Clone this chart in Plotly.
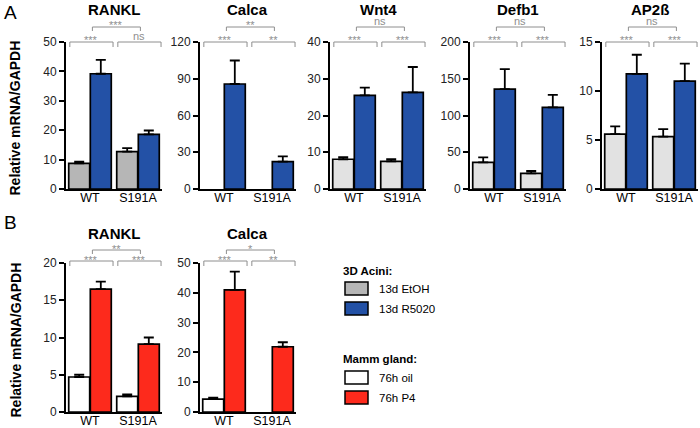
import plotly.graph_objects as go

W, H = 700, 428
FONT = "Liberation Sans, Arial, Helvetica, sans-serif"

groups = ["WT", "S191A"]

# panel A, 3D acini: 13d EtOH vs 13d R5020 (bar value, upper error)
rankl_a_etoh = [8.7, 12.7]
rankl_a_etoh_err = [0.6, 1.2]
rankl_a_r5020 = [39.2, 18.6]
rankl_a_r5020_err = [4.7, 1.3]

calca_a_etoh = [None, None]
calca_a_etoh_err = [0, 0]
calca_a_r5020 = [85.7, 22.4]
calca_a_r5020_err = [19.2, 4.3]

wnt4_etoh = [8.1, 7.5]
wnt4_etoh_err = [0.6, 0.6]
wnt4_r5020 = [25.5, 26.3]
wnt4_r5020_err = [2.1, 6.9]

defb1_etoh = [36.3, 21.3]
defb1_etoh_err = [6.8, 3.2]
defb1_r5020 = [136, 111]
defb1_r5020_err = [27, 17]

ap2b_etoh = [5.6, 5.35]
ap2b_etoh_err = [0.8, 0.75]
ap2b_r5020 = [11.75, 11.0]
ap2b_r5020_err = [1.95, 1.8]

# panel B, mammary gland: 76h oil vs 76h P4
rankl_b_oil = [4.7, 2.1]
rankl_b_oil_err = [0.3, 0.25]
rankl_b_p4 = [16.5, 9.1]
rankl_b_p4_err = [1.0, 0.9]

calca_b_oil = [4.3, None]
calca_b_oil_err = [0.5, 0]
calca_b_p4 = [41.0, 21.9]
calca_b_p4_err = [6.1, 1.5]

GRAY_DARK = "#b6b6b6"
GRAY_LIGHT = "#e2e2e2"
BLUE = "#2351a6"
RED = "#fd2a1c"
WHITE = "#ffffff"
BRACKET = "#8e8e8e"

panels = [
    dict(title="RANKL", row="A", x0=66, ymax=50, dtick=10,
         ctrl=rankl_a_etoh, ctrl_err=rankl_a_etoh_err, ctrl_color=GRAY_DARK,
         trt=rankl_a_r5020, trt_err=rankl_a_r5020_err, trt_color=BLUE,
         sig=("***", "ns", "***")),
    dict(title="Calca", row="A", x0=200, ymax=120, dtick=30,
         ctrl=calca_a_etoh, ctrl_err=calca_a_etoh_err, ctrl_color=GRAY_LIGHT,
         trt=calca_a_r5020, trt_err=calca_a_r5020_err, trt_color=BLUE,
         sig=("***", "**", "**")),
    dict(title="Wnt4", row="A", x0=330, ymax=40, dtick=10,
         ctrl=wnt4_etoh, ctrl_err=wnt4_etoh_err, ctrl_color=GRAY_LIGHT,
         trt=wnt4_r5020, trt_err=wnt4_r5020_err, trt_color=BLUE,
         sig=("***", "***", "ns")),
    dict(title="Defb1", row="A", x0=470, ymax=200, dtick=50,
         ctrl=defb1_etoh, ctrl_err=defb1_etoh_err, ctrl_color=GRAY_LIGHT,
         trt=defb1_r5020, trt_err=defb1_r5020_err, trt_color=BLUE,
         sig=("***", "***", "ns")),
    dict(title="AP2ß", row="A", x0=602, ymax=15, dtick=5,
         ctrl=ap2b_etoh, ctrl_err=ap2b_etoh_err, ctrl_color=GRAY_LIGHT,
         trt=ap2b_r5020, trt_err=ap2b_r5020_err, trt_color=BLUE,
         sig=("***", "***", "ns")),
    dict(title="RANKL", row="B", x0=66, ymax=20, dtick=5,
         ctrl=rankl_b_oil, ctrl_err=rankl_b_oil_err, ctrl_color=WHITE,
         trt=rankl_b_p4, trt_err=rankl_b_p4_err, trt_color=RED,
         sig=("***", "***", "**")),
    dict(title="Calca", row="B", x0=200, ymax=50, dtick=10,
         ctrl=calca_b_oil, ctrl_err=calca_b_oil_err, ctrl_color=WHITE,
         trt=calca_b_p4, trt_err=calca_b_p4_err, trt_color=RED,
         sig=("***", "**", "*")),
]

# pixel geometry of the two rows
rows = {
    "A": dict(top=42, bottom=189, title_y=9, low=42, up=27, label="A", label_y=12),
    "B": dict(top=263, bottom=412, title_y=233, low=261, up=250, label="B", label_y=222),
}
PANEL_W = 96


def px(p):
    return p / W


def py(p):
    return 1 - p / H


fig = go.Figure()
shapes = []
annotations = []
xpos = list(range(len(groups)))

for i, p in enumerate(panels, start=1):
    r = rows[p["row"]]
    xa, ya = f"x{i}", f"y{i}"

    for vals, errs, color in [(p["ctrl"], p["ctrl_err"], p["ctrl_color"]),
                              (p["trt"], p["trt_err"], p["trt_color"])]:
        fig.add_trace(go.Bar(
            x=xpos, y=vals, xaxis=xa, yaxis=ya,
            marker=dict(color=color, line=dict(color="black", width=1.7)),
            error_y=dict(type="data", symmetric=False, array=errs,
                         arrayminus=[0] * len(errs), color="black",
                         thickness=1.8, width=5),
            showlegend=False, hoverinfo="skip",
        ))

    sfx = "" if i == 1 else str(i)
    fig.layout[f"xaxis{sfx}"] = dict(
        domain=[px(p["x0"]), px(p["x0"] + PANEL_W)], anchor=ya,
        range=[-0.5, len(groups) - 0.5], tickvals=xpos, ticktext=groups,
        showline=True, linecolor="black", linewidth=2, ticks="",
        ticklabelstandoff=-4,
        showgrid=False, zeroline=False, fixedrange=True, automargin=False,
        tickfont=dict(family=FONT, size=12.5, color="black"),
    )
    fig.layout[f"yaxis{sfx}"] = dict(
        domain=[py(r["bottom"]), py(r["top"])], anchor=xa,
        range=[0, p["ymax"]], dtick=p["dtick"],
        showline=True, linecolor="black", linewidth=2,
        ticks="outside", ticklen=5, tickwidth=1.5, tickcolor="black",
        showgrid=False, zeroline=False, fixedrange=True, automargin=False,
        tickfont=dict(family=FONT, size=12, color="#222"),
    )

    # panel title
    annotations.append(dict(
        x=px(p["x0"] + PANEL_W / 2), y=py(r["title_y"]), xref="paper", yref="paper",
        xanchor="center", yanchor="middle",
        text=f"<b>{p['title']}</b>", showarrow=False,
        font=dict(family=FONT, size=15, color="black"),
    ))

    # significance brackets: WT pair, S191A pair, then WT vs S191A
    half = 0.45
    brackets = [
        (xpos[0] - half + 0.03, xpos[0] + half + 0.03, r["low"], 5, p["sig"][0]),
        (xpos[1] - half + 0.03, xpos[1] + half + 0.03, r["low"], 5, p["sig"][1]),
        (xpos[0] + 0.05, xpos[1] + 0.05, r["up"], 4, p["sig"][2]),
    ]
    for xl, xr, yline, drop, txt in brackets:
        for seg in [(xl, yline + drop, xl, yline), (xl, yline, xr, yline),
                    (xr, yline, xr, yline + drop)]:
            shapes.append(dict(
                type="line", xref=xa, yref="paper",
                x0=seg[0], y0=py(seg[1]), x1=seg[2], y1=py(seg[3]),
                line=dict(color=BRACKET, width=1),
            ))
        # asterisks sit high in the text box, "ns" sits low
        lift = 1.5 if txt.startswith("*") else 5.5
        annotations.append(dict(
            x=(xl + xr) / 2, y=py(yline - lift), xref=xa, yref="paper",
            xanchor="center", yanchor="middle", text=txt, showarrow=False,
            font=dict(family=FONT, size=11, color=BRACKET),
        ))

for key, r in rows.items():
    annotations.append(dict(
        x=px(10), y=py(r["label_y"]), xref="paper", yref="paper",
        xanchor="center", yanchor="middle",
        text=r["label"], showarrow=False,
        font=dict(family=FONT, size=19, color="black"),
    ))
    annotations.append(dict(
        x=px(15), y=py((r["top"] + r["bottom"]) / 2 + 3), xref="paper", yref="paper",
        xanchor="center", yanchor="middle",
        text="<b>Relative mRNA/GAPDH</b>", textangle=-90, showarrow=False,
        font=dict(family=FONT, size=14, color="black"),
    ))

# legend
legend_groups = [
    ("3D Acini:", 271, [("13d EtOH", GRAY_DARK, 282), ("13d R5020", BLUE, 302)]),
    ("Mamm gland:", 359, [("76h oil", WHITE, 371), ("76h P4", RED, 391)]),
]
for head, head_y, items in legend_groups:
    annotations.append(dict(
        x=px(341), y=py(head_y), xref="paper", yref="paper",
        xanchor="left", yanchor="middle",
        text=f"<b>{head}</b>", showarrow=False,
        font=dict(family=FONT, size=11.5, color="black"),
    ))
    for name, color, top in items:
        shapes.append(dict(
            type="rect", xref="paper", yref="paper",
            x0=px(345), x1=px(368), y0=py(top + 13), y1=py(top),
            fillcolor=color, line=dict(color="black", width=1.5),
        ))
        annotations.append(dict(
            x=px(377), y=py(top + 6.5), xref="paper", yref="paper",
            xanchor="left", yanchor="middle",
            text=name, showarrow=False,
            font=dict(family=FONT, size=11.5, color="black"),
        ))

fig.update_layout(
    width=W, height=H,
    margin=dict(l=0, r=0, t=0, b=0, autoexpand=False),
    paper_bgcolor="white", plot_bgcolor="white",
    barmode="group", bargap=0.1, bargroupgap=0.03,
    shapes=shapes, annotations=annotations,
    font=dict(family=FONT),
)

# drop the browser's default 8px body margin so the figure fills the window
fig.write_html("out.html", config={"displayModeBar": False},
               post_script="document.body.style.margin = '0px';")
